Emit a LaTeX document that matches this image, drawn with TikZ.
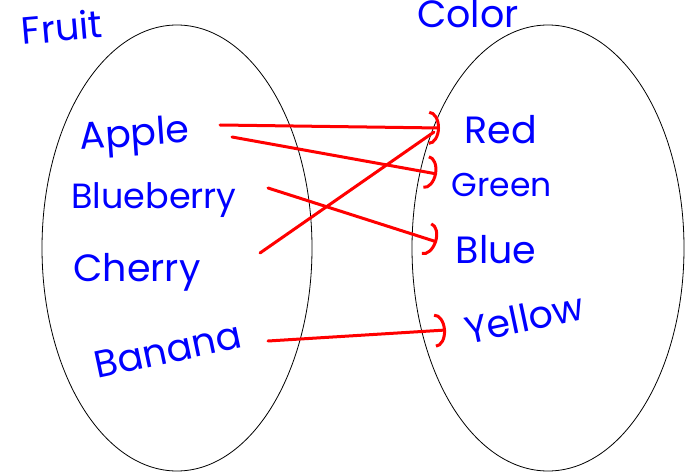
\documentclass[tikz,border=0pt]{standalone}
\usepackage{fontspec}
\setmainfont{Poppins}
\usetikzlibrary{arrows.meta,shapes.geometric}
\definecolor{ink}{RGB}{0,0,255}
\definecolor{pen}{RGB}{255,0,0}
\begin{document}
\begin{tikzpicture}[x=1pt,y=-1pt,
  word/.style={text=ink, font=\fontsize{38}{38}\selectfont, inner sep=0pt},
  setbox/.style={ellipse, draw=black, line width=0.8pt, inner sep=0pt},
  link/.style={draw=pen, line width=3pt, line cap=round, line join=round},
  head/.style={link, -{Arc Barb[length=11pt,width=34pt,line width=3pt]}}]
\useasboundingbox (0,0) rectangle (685,473);
\node[setbox, minimum width=270pt, minimum height=446pt] (fruitset) at (177,248) {};
\node[setbox, minimum width=272pt, minimum height=446pt] (colorset) at (548,248) {};
\node[word, rotate=5] (fruit) at (62,27) {Fruit};
\node[word] (color) at (468,14) {Color};
\node[word, rotate=4] (apple) at (135,137) {Apple};
\node[word, font=\fontsize{35}{35}\selectfont] (blueberry) at (154,200) {Blueberry};
\node[word] (cherry) at (137,272) {Cherry};
\node[word, rotate=12] (banana) at (168,350) {Banana};
\node[word] (red) at (501,130) {Red};
\node[word, font=\fontsize{33}{33}\selectfont] (green) at (502,185) {Green};
\node[word] (blue) at (496,250) {Blue};
\node[word, rotate=12] (yellow) at (524,318) {Yellow};
\draw[head] ([shift={(85,-12)}]apple.center) -- ([shift={(-61,-2)}]red.center);
\draw[head] ([shift={(97,0)}]apple.center) -- ([shift={(-65,-11)}]green.center);
\draw[head] ([shift={(114,-12)}]blueberry.center) -- ([shift={(-59,-8)}]blue.center);
\draw[link] ([shift={(123,-19)}]cherry.center) -- ([shift={(-67,2)}]red.center);
\draw[head] ([shift={(100,-9)}]banana.center) -- ([shift={(-78,12)}]yellow.center);
\end{tikzpicture}
\end{document}
